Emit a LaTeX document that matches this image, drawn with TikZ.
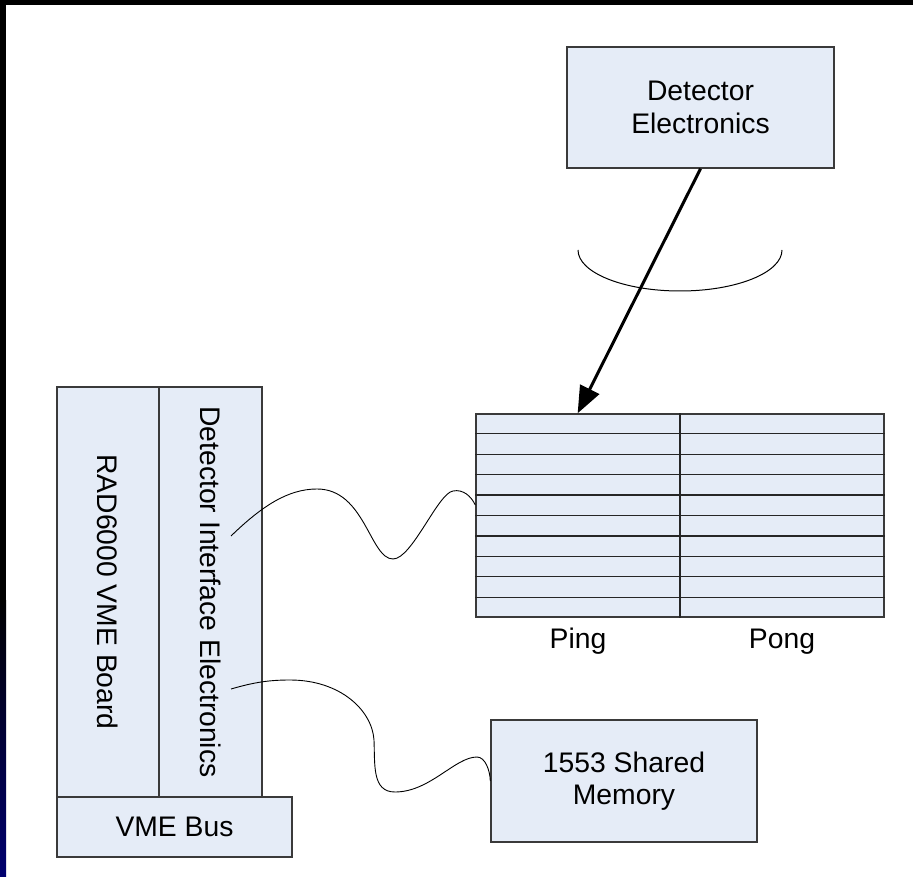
\documentclass[tikz,border=0pt]{standalone}
\usepackage{fontspec}
\setmainfont{Liberation Sans}
\usetikzlibrary{arrows.meta,calc,shadows}
\definecolor{boxfill}{RGB}{229,236,247}
\definecolor{boxedge}{RGB}{58,58,58}
\definecolor{edgenavy}{RGB}{0,0,112}
\begin{document}
\begin{tikzpicture}[x=1pt,y=-1pt,
  unit/.style={rectangle, draw=boxedge, line width=1.4pt, fill=boxfill,
    inner sep=0pt, align=center, font=\fontsize{28.3}{32.5}\selectfont,
    drop shadow={shadow xshift=1.3pt, shadow yshift=-1.3pt, fill=black!40, opacity=1}},
  caption/.style={inner sep=0pt, font=\fontsize{28.3}{32.5}\selectfont},
  rowline/.style={draw=black!85, line width=1.3pt},
  cable/.style={draw=black, line width=0.9pt},
  feed/.style={draw=black, line width=3pt, -{Triangle[length=27pt,width=21pt]}}]

% page, frame strips
\useasboundingbox (0,0) rectangle (913,877);
\fill[white] (0,0) rectangle (913,877);
\fill[black] (0,0) rectangle (913,5);
\fill[black] (0,0) rectangle (6,600);
\shade[top color=black, bottom color=edgenavy] (0,600) rectangle (6,877);

% detector head
\node[unit, minimum width=267pt, minimum height=121pt] (det) at (700.5,107.5) {Detector\\Electronics};

% ping-pong buffer
\node[unit, minimum width=408pt, minimum height=203pt] (buf) at (680,515.5) {};
\foreach \i in {1,...,9}
  \draw[rowline] ($(buf.north west)!\i/10!(buf.south west)$) -- ($(buf.north east)!\i/10!(buf.south east)$);
\draw[rowline] (buf.north) -- (buf.south);
\node[caption, anchor=base] (ping) at (578,648) {Ping};
\node[caption, anchor=base] (pong) at (782,648) {Pong};

% processor stack
\node[unit, minimum width=102pt, minimum height=410pt] (rad) at (108,592) {};
\node[unit, minimum width=103pt, minimum height=410pt] (die) at (210.5,592) {};
\node[unit, minimum width=235pt, minimum height=60pt] (vme) at (174.5,827) {VME Bus};
\node[caption, rotate=-90] (radtxt) at (rad.center) {RAD6000 VME Board};
\node[caption, rotate=-90] (dietxt) at (die.center) {Detector Interface Electronics};

% shared memory
\node[unit, minimum width=266pt, minimum height=122pt] (mem) at (624,781) {1553 Shared\\Memory};

% data feed with cable bundle
\coordinate (hit) at ($(buf.north west)!0.25!(buf.north east)$);
\draw[feed] (det.south) -- (hit);
\draw[cable, line width=1pt] (578,250) arc[start angle=180, end angle=0, x radius=102, y radius=41];

% cables from the interface card
\coordinate (c1a) at (231,536);
\coordinate (c1b) at ([yshift=10.5pt]buf.west);
\draw[cable] (c1a) .. controls (262,506) and (288,489) .. (317,489)
  .. controls (365,489) and (370,559) .. (393,559)
  .. controls (412,559) and (438,493) .. (453,491)
  .. controls (463,489) and (471,496) .. (c1b);

\coordinate (c2a) at (231,689);
\draw[cable] (c2a) .. controls (255,682) and (270,680) .. (290,680)
  .. controls (340,680) and (372,710) .. (374,740)
  .. controls (375,765) and (372,792) .. (395,792)
  .. controls (430,792) and (455,757) .. (477,757)
  .. controls (485,757) and (490,770) .. (mem.west);
\end{tikzpicture}
\end{document}
